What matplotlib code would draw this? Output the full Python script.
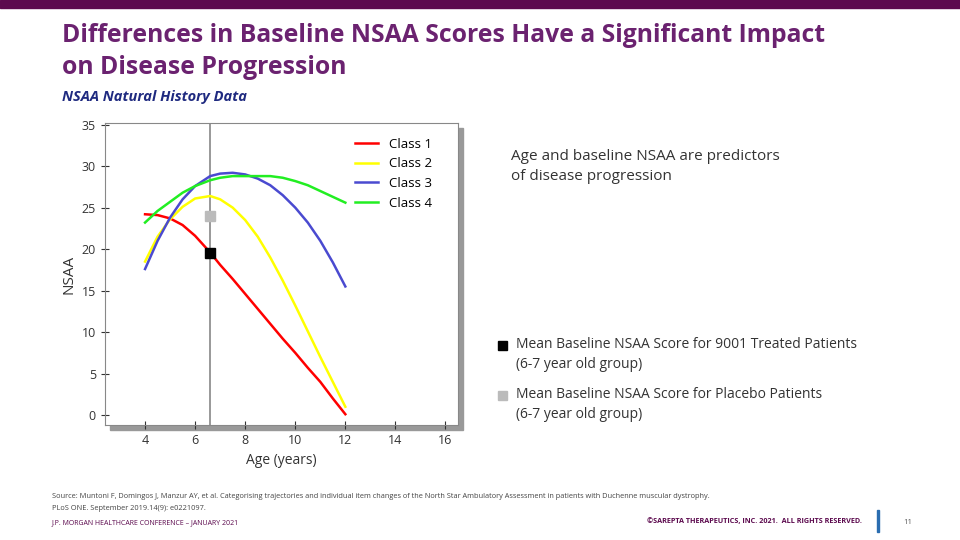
import matplotlib
matplotlib.use("Agg")
import matplotlib.pyplot as plt
from matplotlib.patches import Rectangle

plt.rcParams['font.family'] = ['Open Sans', 'DejaVu Sans']

ages = [4, 4.5, 5, 5.5, 6, 6.6, 7, 7.5, 8, 8.5, 9, 9.5, 10, 10.5, 11, 11.5, 12]
class1 = [24.2, 24.1, 23.7, 22.9, 21.6, 19.6, 18.1, 16.4, 14.6, 12.8, 11.0, 9.2, 7.5, 5.7, 4.0, 2.0, 0.1]
class2 = [18.5, 21.5, 23.6, 25.1, 26.1, 26.4, 26.0, 25.0, 23.5, 21.5, 19.0, 16.2, 13.2, 10.1, 7.0, 4.0, 1.0]
class3 = [17.6, 21.0, 23.8, 26.0, 27.6, 28.8, 29.1, 29.2, 29.0, 28.5, 27.7, 26.5, 25.0, 23.2, 21.0, 18.4, 15.5]
class4 = [23.2, 24.6, 25.7, 26.8, 27.6, 28.3, 28.6, 28.8, 28.8, 28.8, 28.8, 28.6, 28.2, 27.7, 27.0, 26.3, 25.6]
series = [("Class 1", class1, "#ff0000"), ("Class 2", class2, "#ffff00"),
          ("Class 3", class3, "#4a4ad0"), ("Class 4", class4, "#22ee22")]
baseline_age = 6.6
treated_mean = 19.5
placebo_mean = 24.0
xticks = [4, 6, 8, 10, 12, 14, 16]
yticks = [0, 5, 10, 15, 20, 25, 30, 35]

fig = plt.figure(figsize=(9.6, 5.4), dpi=100)
W, H = 960, 540
def fx(x): return x / W
def fy(y): return 1 - y / H

fig.patches.append(Rectangle((0, fy(8)), 1, 8 / H, transform=fig.transFigure, color="#5c0a4e"))
fig.text(fx(62), fy(35), "Differences in Baseline NSAA Scores Have a Significant Impact",
         color="#6b2270", fontsize=17.8, fontweight="bold", va="center")
fig.text(fx(62), fy(68), "on Disease Progression", color="#6b2270", fontsize=17.8,
         fontweight="bold", va="center")
fig.text(fx(62), fy(97), "NSAA Natural History Data", color="#1f2a80", fontsize=10.5,
         fontweight="bold", style="italic", va="center")

# shadow
fig.patches.append(Rectangle((fx(110), fy(430)), fx(353), 302 / H, transform=fig.transFigure,
                             color="#999999", zorder=-5))
ax = fig.add_axes([fx(105), fy(425), fx(353), 302 / H])
ax.set_zorder(2)
ax.set_facecolor("white")
ax.set_xlim(2.4, 16.5)
ax.set_ylim(-1.2, 35.2)
ax.axvline(baseline_age, color="#888888", lw=1.2)
for name, vals, c in series:
    ax.plot(ages, vals, color=c, lw=1.8, label=name)
ax.plot([baseline_age], [placebo_mean], marker="s", ms=7, color="#bbbbbb", ls="none")
ax.plot([baseline_age], [treated_mean], marker="s", ms=7, color="black", ls="none")
ax.set_xticks(xticks)
ax.set_yticks(yticks)
ax.tick_params(labelsize=9, colors="#333333", direction="inout", length=6)
ax.set_xlabel("Age (years)", fontsize=10, color="#333333")
ax.set_ylabel("NSAA", fontsize=11, color="#333333")
ax.legend(loc="upper right", frameon=False, fontsize=9.5, handlelength=1.8,
          labelspacing=0.5, bbox_to_anchor=(0.96, 0.99))
for s in ax.spines.values():
    s.set_color("#888888")

fig.text(fx(511), fy(157), "Age and baseline NSAA are predictors", fontsize=11, color="#333333", va="center")
fig.text(fx(511), fy(177), "of disease progression", fontsize=11, color="#333333", va="center")

fig.patches.append(Rectangle((fx(498), fy(350)), 9 / W, 9 / H, transform=fig.transFigure, color="black"))
fig.text(fx(516), fy(345), "Mean Baseline NSAA Score for 9001 Treated Patients", fontsize=10, color="#333333", va="center")
fig.text(fx(516), fy(364), "(6-7 year old group)", fontsize=10, color="#333333", va="center")
fig.patches.append(Rectangle((fx(498), fy(400)), 9 / W, 9 / H, transform=fig.transFigure, color="#bbbbbb"))
fig.text(fx(516), fy(395), "Mean Baseline NSAA Score for Placebo Patients", fontsize=10, color="#333333", va="center")
fig.text(fx(516), fy(414), "(6-7 year old group)", fontsize=10, color="#333333", va="center")

fig.text(fx(52), fy(497), "Source: Muntoni F, Domingos J, Manzur AY, et al. Categorising trajectories and individual item changes of the North Star Ambulatory Assessment in patients with Duchenne muscular dystrophy.",
         fontsize=5.3, color="#444444", va="center")
fig.text(fx(52), fy(509), "PLoS ONE. September 2019.14(9): e0221097.", fontsize=5.3, color="#444444", va="center")
fig.text(fx(52), fy(523), "J.P. MORGAN HEALTHCARE CONFERENCE – JANUARY 2021", fontsize=5, color="#5c0a4e", va="center")
fig.text(fx(862), fy(522), "©SAREPTA THERAPEUTICS, INC. 2021.  ALL RIGHTS RESERVED.", fontsize=5.2,
         fontweight="bold", color="#5c0a4e", va="center", ha="right")
fig.patches.append(Rectangle((fx(877), fy(532)), 2 / W, 22 / H, transform=fig.transFigure, color="#2a6db0"))
fig.text(fx(903), fy(522), "11", fontsize=5.5, color="#555555", va="center")

fig.savefig("out.png", dpi=100)
